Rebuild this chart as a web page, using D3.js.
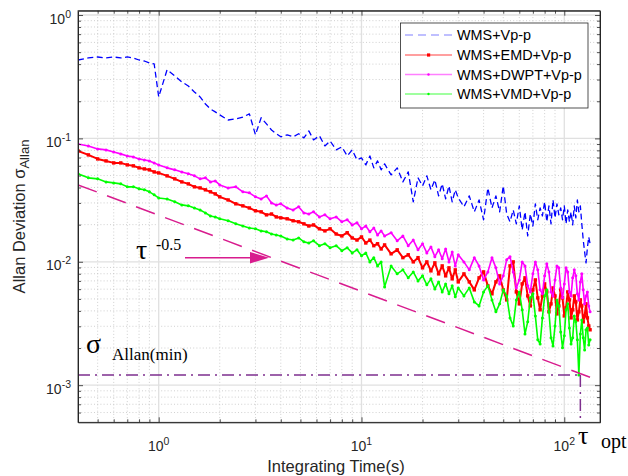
<!DOCTYPE html>
<html><head><meta charset="utf-8">
<script src="https://cdn.jsdelivr.net/npm/d3@7"></script>
<style>html,body{margin:0;padding:0;background:#fff;}svg{display:block;}</style>
</head><body>
<script>
// ---------------- data ----------------
const tau = [0.4,0.45,0.5,0.55,0.6,0.65,0.7,0.75,0.8,0.85,0.9,0.95,
1.0,1.1,1.2,1.3,1.4,1.5,1.6,1.7,1.8,1.9,
2.0,2.2,2.4,2.6,2.8,3.0,3.2,3.4,3.6,3.8,
4.0,4.3,4.6,4.9,5.2,5.5,5.8,
6.2,6.6,7.0,7.5,8.0,8.5,9.0,9.5,
10,10.5,11,11.5,12,12.5,13,
14,15,16,17,18,19,20,21,22,23,24,25,26,27,28,29,30,
32,34,36,38,40,42,44,46,48,50,52,54,56,58,60,62,64,66,68,70,72,74,76,78,80,82,84,86,88,90,
92,94,96,98,100,102,104,106,108,110,112,114,116,118,120,122,124,126,128,130,132,134];

const wmsVpp = [0.432,0.449,0.457,0.449,0.457,0.449,0.457,0.449,0.432,0.424,0.409,0.401,
0.217,0.360,0.321,0.287,0.266,0.238,0.217,0.190,0.173,0.164,
0.155,0.141,0.144,0.149,0.158,0.107,0.147,0.131,0.117,0.109,
0.103,0.107,0.103,0.109,0.101,0.115,0.0972,
0.105,0.0869,0.0954,0.0807,0.0853,0.0721,0.0807,0.0669,
0.0695,0.0610,0.0721,0.0577,0.0657,0.0556,0.0621,
0.0506,0.0577,0.0444,0.0535,0.0306,0.0479,0.0412,0.0497,0.0383,0.0461,0.0342,0.0428,0.0323,0.0412,0.0306,0.0383,0.0329,
0.0279,0.0342,0.0254,0.0317,0.0219,0.0397,0.0273,0.0342,0.0254,0.0412,
0.0244,0.0211,0.0263,0.0203,0.0284,0.0181,0.0254,0.0162,0.0244,0.0195,
0.0295,0.0219,0.0273,0.0235,0.0306,0.0211,0.0284,0.0203,0.0317,0.0227,
0.0295,0.0240,0.0273,0.0219,0.0284,0.0203,0.0263,0.0211,0.0254,0.0199,
0.0284,0.0227,0.0317,0.0254,0.0284,0.0203,0.0150,0.0120,0.00980,0.0130,
0.0159,0.0140];

const wmsEmdVpp = [0.0792,0.0735,0.0682,0.0657,0.0633,0.0633,0.0610,0.0599,0.0577,0.0566,0.0556,0.0535,
0.0525,0.0497,0.0470,0.0444,0.0428,0.0405,0.0397,0.0383,0.0369,0.0355,
0.0336,0.0317,0.0295,0.0284,0.0273,0.0259,0.0254,0.0240,0.0244,0.0231,
0.0227,0.0223,0.0215,0.0211,0.0203,0.0195,0.0199,
0.0185,0.0178,0.0185,0.0168,0.0162,0.0172,0.0156,0.0150,
0.0159,0.0142,0.0150,0.0135,0.0140,0.0127,0.0137,
0.0116,0.0125,0.0108,0.0114,0.00998,0.0108,0.00893,0.00998,0.00844,0.00980,0.00798,0.00926,0.00769,0.00893,0.00727,0.00860,0.00687,
0.00798,0.00687,0.00592,0.00741,0.00828,0.00638,0.00550,0.00687,0.00769,0.00592,
0.00491,0.00926,0.00998,0.00570,0.00456,0.00662,0.00741,0.00529,0.00439,0.00592,
0.00713,0.00510,0.00408,0.00529,0.00662,0.00570,0.00393,0.00456,0.00614,0.00529,
0.00378,0.00439,0.00592,0.00510,0.00364,0.00423,0.00570,0.00491,0.00351,0.00408,
0.00529,0.00473,0.00338,0.00393,0.00491,0.00439,0.00326,0.00364,0.00456,0.00351,
0.00302,0.00281];

const wmsDwptVpp = [0.0902,0.0869,0.0822,0.0807,0.0777,0.0749,0.0721,0.0708,0.0682,0.0669,0.0657,0.0633,
0.0610,0.0577,0.0556,0.0535,0.0516,0.0497,0.0470,0.0479,0.0444,0.0452,
0.0420,0.0397,0.0405,0.0369,0.0362,0.0336,0.0323,0.0342,0.0300,0.0289,
0.0295,0.0273,0.0263,0.0279,0.0249,0.0244,0.0254,
0.0231,0.0240,0.0223,0.0231,0.0211,0.0219,0.0199,0.0207,
0.0185,0.0195,0.0175,0.0188,0.0165,0.0178,0.0162,
0.0172,0.0148,0.0162,0.0135,0.0150,0.0125,0.0140,0.0118,0.0132,0.0110,0.0125,0.0106,0.0127,0.00998,0.0120,0.00926,0.0114,
0.00998,0.00860,0.0108,0.00926,0.00713,0.00828,0.0108,0.00893,0.00662,0.00769,
0.0104,0.0110,0.00828,0.00614,0.00713,0.00998,0.00926,0.00638,0.00570,0.00798,
0.00998,0.00860,0.00592,0.00550,0.00769,0.00962,0.00828,0.00570,0.00529,0.00713,
0.00926,0.00893,0.00614,0.00510,0.00662,0.00893,0.00828,0.00570,0.00529,0.00741,
0.00860,0.00769,0.00550,0.00491,0.00687,0.00798,0.00592,0.00456,0.00529,0.00570,
0.00439,0.00393];

const wmsVmdVpp = [0.0516,0.0479,0.0470,0.0444,0.0436,0.0428,0.0405,0.0405,0.0390,0.0383,0.0369,0.0349,
0.0329,0.0323,0.0306,0.0289,0.0284,0.0273,0.0263,0.0249,0.0235,0.0231,
0.0223,0.0215,0.0203,0.0195,0.0188,0.0185,0.0178,0.0175,0.0168,0.0165,
0.0162,0.0153,0.0150,0.0156,0.0145,0.0142,0.0148,
0.0135,0.0140,0.0130,0.0135,0.0123,0.0130,0.0118,0.0125,
0.0112,0.0118,0.00998,0.0108,0.00926,0.00998,0.00626,
0.00926,0.00798,0.00860,0.00741,0.00828,0.00700,0.00769,0.00650,0.00727,0.00603,0.00687,0.00570,0.00662,0.00550,0.00638,0.00520,0.00614,
0.00529,0.00614,0.00473,0.00439,0.00570,0.00638,0.00491,0.00393,0.00456,0.00592,
0.00529,0.00351,0.00302,0.00491,0.00570,0.00408,0.00260,0.00326,0.00510,0.00550,
0.00364,0.00233,0.00216,0.00351,0.00529,0.00592,0.00393,0.00242,0.00208,0.00302,
0.00491,0.00439,0.00270,0.00201,0.00251,0.00408,0.00456,0.00291,0.00216,0.00242,
0.00364,0.00326,0.00233,0.00121,0.00260,0.00338,0.00242,0.00193,0.00281,0.00291,
0.00212,0.00233];

const seriesNames = ["WMS+Vp-p","WMS+EMD+Vp-p","WMS+DWPT+Vp-p","WMS+VMD+Vp-p"];
const seriesColors = ["#0000ff","#ff0000","#ff00ff","#00ff00"];

// tau^-0.5 reference line end points
const refTau = [0.4, 150];
const refVal = [0.0420, 0.00108];
// minimum Allan deviation and optimum integration time
const sigmaMin = 0.00121;
const tauOpt = 120;

const xDomain = [0.4, 150];
const yDomain = [5e-4, 1.084];
const xMajorTicks = [1, 10, 100];
const xTickExp = ["0","1","2"];
const yMajorTicks = [1e-3, 1e-2, 1e-1, 1];
const yTickExp = ["-3","-2","-1","0"];
const xMinorTicks = [0.5,0.6,0.7,0.8,0.9,2,3,4,5,6,7,8,9,20,30,40,50,60,70,80,90];
const yMinorTicks = [6e-4,7e-4,8e-4,9e-4,2e-3,3e-3,4e-3,5e-3,6e-3,7e-3,8e-3,9e-3,
  2e-2,3e-2,4e-2,5e-2,6e-2,7e-2,8e-2,9e-2,0.2,0.3,0.4,0.5,0.6,0.7,0.8,0.9];

// ---------------- layout ----------------
const W = 628, H = 476;
const L = 78, R = 600, T = 10.7, B = 422.3;
const axisColor = "#262626";
const sans = "'Liberation Sans', Arial, Helvetica, sans-serif";
const serif = "'Liberation Serif', 'Times New Roman', serif";
const annColor = "#d81c8e";
const optColor = "#7e2f8e";

const svg = d3.select("body").append("svg").attr("width", W).attr("height", H);
svg.append("rect").attr("width", W).attr("height", H).attr("fill", "#fff");

const x = d3.scaleLog().domain(xDomain).range([L, R]);
const y = d3.scaleLog().domain(yDomain).range([B, T]);

// grid
const grid = svg.append("g");
grid.selectAll(".xmin").data(xMinorTicks).join("line")
  .attr("x1", d => x(d)).attr("x2", d => x(d)).attr("y1", T).attr("y2", B)
  .attr("stroke", "#c4c4c4").attr("stroke-width", 0.8).attr("stroke-dasharray", "1,2.2");
grid.selectAll(".ymin").data(yMinorTicks).join("line")
  .attr("y1", d => y(d)).attr("y2", d => y(d)).attr("x1", L).attr("x2", R)
  .attr("stroke", "#c4c4c4").attr("stroke-width", 0.8).attr("stroke-dasharray", "1,2.2");
grid.selectAll(".xmaj").data(xMajorTicks).join("line")
  .attr("x1", d => x(d)).attr("x2", d => x(d)).attr("y1", T).attr("y2", B)
  .attr("stroke", "#e0e0e0").attr("stroke-width", 1.3);
grid.selectAll(".ymaj").data(yMajorTicks).join("line")
  .attr("y1", d => y(d)).attr("y2", d => y(d)).attr("x1", L).attr("x2", R)
  .attr("stroke", "#e0e0e0").attr("stroke-width", 1.3);

// data
svg.append("clipPath").attr("id", "clip").append("rect")
  .attr("x", L).attr("y", T).attr("width", R - L).attr("height", B - T);
const plot = svg.append("g").attr("clip-path", "url(#clip)");
const allSeries = [wmsVpp, wmsEmdVpp, wmsDwptVpp, wmsVmdVpp];
const widths = [1.3, 2.0, 1.6, 1.6];
const line = d3.line().x(d => x(d[0])).y(d => y(d[1]));

allSeries.forEach((vals, i) => {
  const pts = tau.map((t, k) => [t, vals[k]]);
  const g = plot.append("g");
  g.append("path").datum(pts).attr("d", line).attr("fill", "none")
    .attr("stroke", seriesColors[i]).attr("stroke-width", widths[i])
    .attr("stroke-linejoin", "round")
    .attr("stroke-dasharray", i === 0 ? "6,3.5" : null);
  if (i === 1) {
    g.selectAll("rect").data(pts).join("rect")
      .attr("x", d => x(d[0]) - 1.7).attr("y", d => y(d[1]) - 1.7)
      .attr("width", 3.4).attr("height", 3.4).attr("fill", seriesColors[i]);
  } else if (i > 1) {
    g.selectAll("circle").data(pts).join("circle")
      .attr("cx", d => x(d[0])).attr("cy", d => y(d[1])).attr("r", 1.5)
      .attr("fill", seriesColors[i]);
  }
});

// tau^-0.5 reference line
plot.append("line")
  .attr("x1", x(refTau[0])).attr("y1", y(refVal[0]))
  .attr("x2", x(refTau[1])).attr("y2", y(refVal[1]))
  .attr("stroke", annColor).attr("stroke-width", 1.5).attr("stroke-dasharray", "20,11");

// sigma min / tau opt dash-dot lines
plot.append("line")
  .attr("x1", L).attr("x2", x(tauOpt)).attr("y1", y(sigmaMin)).attr("y2", y(sigmaMin))
  .attr("stroke", optColor).attr("stroke-width", 1.5).attr("stroke-dasharray", "12,5,2,5");
plot.append("line")
  .attr("x1", x(tauOpt)).attr("x2", x(tauOpt)).attr("y1", y(sigmaMin)).attr("y2", B)
  .attr("stroke", optColor).attr("stroke-width", 1.5).attr("stroke-dasharray", "12,5,2,5");

// axes (ticks inward on all four sides)
function styleAxis(g) {
  g.selectAll("path").attr("stroke", axisColor);
  g.selectAll("line").attr("stroke", axisColor).attr("stroke-width", 0.8);
  g.selectAll("text").remove();
}
function minor(g) { g.select(".domain").remove(); }
svg.append("g").attr("transform", `translate(0,${B})`)
  .call(d3.axisBottom(x).tickValues(xMajorTicks).tickSize(-5).tickSizeOuter(0)).call(styleAxis);
svg.append("g").attr("transform", `translate(0,${B})`)
  .call(d3.axisBottom(x).tickValues(xMinorTicks).tickSize(-3)).call(minor).call(styleAxis);
svg.append("g").attr("transform", `translate(0,${T})`)
  .call(d3.axisTop(x).tickValues(xMajorTicks).tickSize(-5).tickSizeOuter(0)).call(styleAxis);
svg.append("g").attr("transform", `translate(0,${T})`)
  .call(d3.axisTop(x).tickValues(xMinorTicks).tickSize(-3)).call(minor).call(styleAxis);
svg.append("g").attr("transform", `translate(${L},0)`)
  .call(d3.axisLeft(y).tickValues(yMajorTicks).tickSize(-5).tickSizeOuter(0)).call(styleAxis);
svg.append("g").attr("transform", `translate(${L},0)`)
  .call(d3.axisLeft(y).tickValues(yMinorTicks).tickSize(-3)).call(minor).call(styleAxis);
svg.append("g").attr("transform", `translate(${R},0)`)
  .call(d3.axisRight(y).tickValues(yMajorTicks).tickSize(-5).tickSizeOuter(0)).call(styleAxis);
svg.append("g").attr("transform", `translate(${R},0)`)
  .call(d3.axisRight(y).tickValues(yMinorTicks).tickSize(-3)).call(minor).call(styleAxis);
svg.append("rect").attr("x", L).attr("y", T).attr("width", R - L).attr("height", B - T)
  .attr("fill", "none").attr("stroke", axisColor).attr("stroke-width", 0.8);

// tick labels
xMajorTicks.forEach((v, i) => {
  const t = svg.append("text").attr("x", x(v)).attr("y", 451).attr("text-anchor", "middle")
    .attr("font-family", sans).attr("font-size", 14).attr("fill", axisColor);
  t.append("tspan").text("10");
  t.append("tspan").attr("dy", -6).attr("font-size", 10.5).text(xTickExp[i]);
});
yMajorTicks.forEach((v, i) => {
  const t = svg.append("text").attr("x", 71).attr("y", y(v) + 8.5).attr("text-anchor", "end")
    .attr("font-family", sans).attr("font-size", 14).attr("fill", axisColor);
  t.append("tspan").text("10");
  t.append("tspan").attr("dy", -6).attr("font-size", 10.5).text(yTickExp[i]);
});

// axis labels
svg.append("text").attr("x", 336).attr("y", 472).attr("text-anchor", "middle")
  .attr("font-family", sans).attr("font-size", 16.5).attr("fill", axisColor)
  .text("Integrating Time(s)");
const yl = svg.append("text").attr("transform", `translate(25,${(T + B) / 2}) rotate(-90)`)
  .attr("text-anchor", "middle").attr("font-family", sans).attr("font-size", 16.5).attr("fill", axisColor);
yl.append("tspan").text("Allan Deviation σ");
yl.append("tspan").attr("dy", 4).attr("font-size", 13).text("Allan");

// annotations
svg.append("text").attr("x", 136).attr("y", 259).attr("font-family", serif)
  .attr("font-size", 28).attr("fill", "#000").text("τ");
svg.append("text").attr("x", 156).attr("y", 250).attr("font-family", serif)
  .attr("font-size", 16).attr("fill", "#000").text("-0.5");
svg.append("line").attr("x1", 185).attr("x2", 252).attr("y1", 257.7).attr("y2", 257.7)
  .attr("stroke", annColor).attr("stroke-width", 1.5);
svg.append("path").attr("d", "M250,252 L269,257.7 L250,263.4 Z").attr("fill", annColor);

svg.append("text").attr("x", 86).attr("y", 353).attr("font-family", serif)
  .attr("font-size", 28).attr("fill", "#000").text("σ");
svg.append("text").attr("x", 112).attr("y", 360).attr("font-family", serif)
  .attr("font-size", 17).attr("fill", "#000").text("Allan(min)");

svg.append("text").attr("x", 578).attr("y", 444).attr("font-family", serif)
  .attr("font-size", 26).attr("fill", "#000").text("τ");
svg.append("text").attr("x", 601).attr("y", 448).attr("font-family", serif)
  .attr("font-size", 20).attr("fill", "#000").text("opt");

// legend
const lg = svg.append("g");
lg.append("rect").attr("x", 400.5).attr("y", 23).attr("width", 187.5).attr("height", 85)
  .attr("fill", "#fff").attr("stroke", axisColor).attr("stroke-width", 0.8);
const rowsY = [35, 55, 74.5, 94];
seriesNames.forEach((name, i) => {
  const yy = rowsY[i];
  lg.append("line").attr("x1", 405).attr("x2", 452).attr("y1", yy).attr("y2", yy)
    .attr("stroke", seriesColors[i]).attr("stroke-opacity", 0.5)
    .attr("stroke-width", i === 0 ? 1 : 1.4)
    .attr("stroke-dasharray", i === 0 ? "8,5" : null);
  if (i === 1) lg.append("rect").attr("x", 427).attr("y", yy - 1.6).attr("width", 3.2).attr("height", 3.2).attr("fill", seriesColors[i]);
  if (i > 1) lg.append("circle").attr("cx", 428.5).attr("cy", yy).attr("r", 1.2).attr("fill", seriesColors[i]);
  lg.append("text").attr("x", 457).attr("y", yy + 5).attr("font-family", sans)
    .attr("font-size", 14.4).attr("fill", "#000").text(name);
});
</script>
</body></html>
